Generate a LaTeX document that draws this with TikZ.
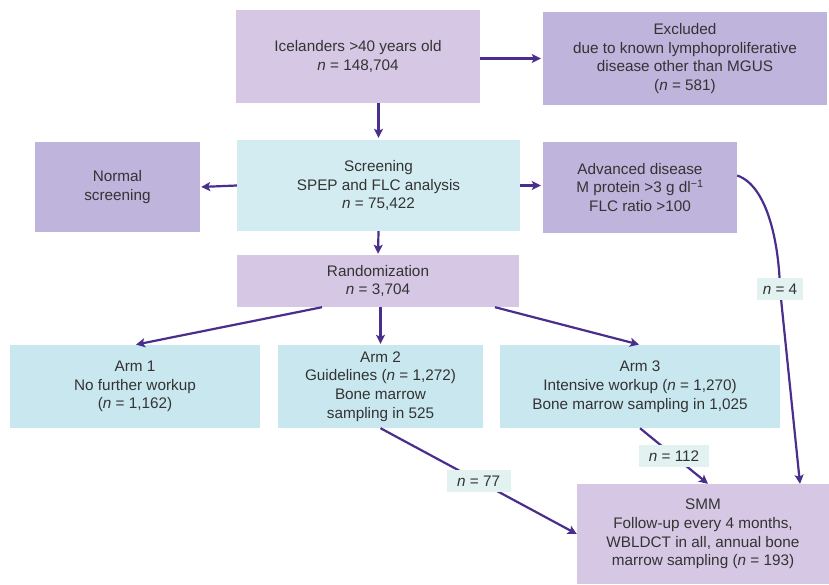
\documentclass[tikz,border=0pt]{standalone}
\usepackage{fontspec}
\setmainfont{Liberation Sans}
\usetikzlibrary{arrows.meta}
\definecolor{lp}{HTML}{D6C8E4}
\definecolor{dp}{HTML}{BFB4DB}
\definecolor{cy}{HTML}{D3ECF1}
\definecolor{cyarm}{HTML}{C9E7EE}
\definecolor{lblc}{HTML}{E2F2F1}
\definecolor{arrc}{HTML}{4A2E8C}
\definecolor{txt}{HTML}{333333}
\begin{document}
\begin{tikzpicture}[x=1pt,y=-1pt,
  box/.style={draw=none, inner sep=0pt, align=center, text=txt,
    font=\fontsize{15.3}{18.8}\selectfont},
  lbl/.style={fill=lblc, inner sep=0pt, minimum height=22pt, text=txt,
    font=\fontsize{15.3}{18}\selectfont},
  arr/.style={draw=arrc, line width=2.2pt, -{Stealth[length=9pt,width=9pt,inset=2pt]}}]
\useasboundingbox (0,0) rectangle (829,584);
\fill[white] (0,0) rectangle (829,584);

\node[box, fill=lp, minimum width=244pt, minimum height=93pt] (ice) at (358,56.5)
  {Icelanders >40 years old\\\textit{n} = 148,704};
\node[box, fill=dp, minimum width=284pt, minimum height=93pt] (exc) at (685,58.5)
  {Excluded\\due to known lymphoproliferative\\disease other than MGUS\\(\textit{n} = 581)};
\node[box, fill=dp, minimum width=165pt, minimum height=90pt] (norm) at (117.5,187)
  {Normal\\screening};
\node[box, fill=cy, minimum width=283pt, minimum height=91pt] (scr) at (378.5,185.5)
  {Screening\\SPEP and FLC analysis\\\textit{n} = 75,422};
\node[box, fill=dp, minimum width=194pt, minimum height=91pt] (adv) at (640,187.5)
  {Advanced disease\\M protein >3 g dl\textsuperscript{\char"2212 1}\\FLC ratio >100};
\node[box, fill=lp, minimum width=282pt, minimum height=52pt] (rand) at (378,281)
  {Randomization\\\textit{n} = 3,704};
\node[box, fill=cyarm, minimum width=250pt, minimum height=83pt] (arm1) at (135,386.5)
  {Arm 1\\No further workup\\(\textit{n} = 1,162)};
\node[box, fill=cyarm, minimum width=205pt, minimum height=83pt] (arm2) at (380.5,386.5)
  {Arm 2\\Guidelines (\textit{n} = 1,272)\\Bone marrow\\sampling in 525};
\node[box, fill=cyarm, minimum width=280pt, minimum height=83pt] (arm3) at (640,386.5)
  {Arm 3\\Intensive workup (\textit{n} = 1,270)\\Bone marrow sampling in 1,025};
\node[box, fill=lp, minimum width=252pt, minimum height=100pt] (smm) at (703,534)
  {SMM\\Follow-up every 4 months,\\WBLDCT in all, annual bone\\marrow sampling (\textit{n} = 193)};

\draw[arr, shorten >=2pt] (ice.east |- exc.west) -- (exc.west);
\draw[arr, shorten >=2pt] (scr.north |- ice.south) -- (scr.north);
\draw[arr, shorten >=1pt] (scr.west) -- (norm.east);
\draw[arr, shorten >=2pt] (scr.east) -- (scr.east -| adv.west);
\draw[arr, shorten >=1pt] (scr.south) -- (rand.north);
\draw[arr, shorten >=1pt] ([xshift=-56pt]rand.south) -- (arm1.north);
\draw[arr, shorten >=1pt] (arm2.north |- rand.south) -- (arm2.north);
\draw[arr, shorten >=1pt] ([xshift=117pt]rand.south) -- (arm3.north);

\draw[arr] (arm2.south) -- node[lbl, minimum width=64pt] (l77) {\textit{n} = 77} (smm.west);
\draw[arr] (arm3.south) -- node[lbl, minimum width=70pt] (l112) {\textit{n} = 112} ([xshift=5pt]smm.north);

\coordinate (k4) at (780,289);
\draw[arr] ([yshift=12pt]adv.east) .. controls (768,186) and (779,245) .. (k4) -- ([xshift=97pt]smm.north);
\node[lbl, minimum width=46pt] (l4) at (k4) {\textit{n} = 4};
\end{tikzpicture}
\end{document}
